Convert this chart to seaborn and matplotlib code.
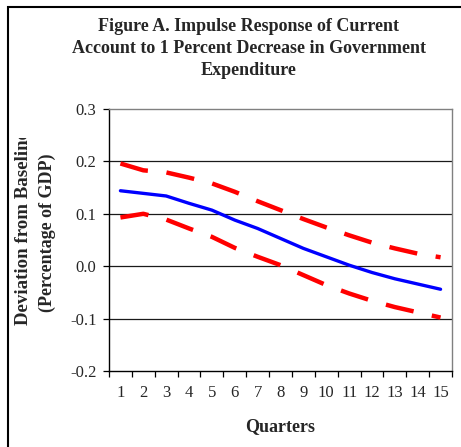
import matplotlib
matplotlib.use("Agg")
import matplotlib.pyplot as plt
from matplotlib.patches import Rectangle
from matplotlib.transforms import Bbox, TransformedBbox
import seaborn as sns
import pandas as pd

quarters = list(range(1, 16))
response = [0.144, 0.139, 0.134, 0.120, 0.107, 0.088, 0.072, 0.053, 0.034,
            0.018, 0.002, -0.012, -0.024, -0.034, -0.044]
upper_band = [0.196, 0.183, 0.179, 0.169, 0.158, 0.142, 0.124, 0.107, 0.090,
              0.074, 0.059, 0.045, 0.034, 0.024, 0.017]
lower_band = [0.093, 0.100, 0.089, 0.072, 0.056, 0.035, 0.018, 0.002, -0.017,
              -0.036, -0.052, -0.066, -0.078, -0.088, -0.098]
y_ticks = [0.3, 0.2, 0.1, 0.0, -0.1, -0.2]

sns.set_theme(style="white")
plt.rcParams["font.family"] = ["Liberation Serif", "DejaVu Serif"]

df = pd.DataFrame({"quarter": quarters, "response": response,
                   "upper": upper_band, "lower": lower_band})

fig = plt.figure(figsize=(4.61, 4.47), dpi=100)
fig.patch.set_facecolor("white")
ax = fig.add_axes([109 / 461, 1 - 371 / 447, 343 / 461, 262 / 447])

# confidence bands (dashed red) and point estimate (solid blue)
for col in ["upper", "lower"]:
    sns.lineplot(data=df, x="quarter", y=col, ax=ax, color="#ff0000",
                 linewidth=3.2, dashes=False, solid_capstyle="butt")
for line in ax.lines:
    line.set_linestyle((0, (6.4, 4.2)))
    line.set_dash_capstyle("butt")
sns.lineplot(data=df, x="quarter", y="response", ax=ax, color="#0000ff",
             linewidth=2.4)

ax.set_xlim(0.5, 15.5)
ax.set_ylim(-0.2, 0.3)
ax.set_yticks(y_ticks)
ax.set_yticklabels([f"{v:.1f}" for v in y_ticks], fontsize=12)
ax.set_xticks([q + 0.5 for q in [0] + quarters])
ax.set_xticklabels([])
ax.set_xticks(quarters, minor=True)
ax.set_xticklabels([str(q) for q in quarters], minor=True, fontsize=12)
ax.tick_params(axis="x", which="major", direction="out", length=4,
               width=0.9, color="black", bottom=True)
ax.tick_params(axis="x", which="minor", length=0, pad=10)
ax.tick_params(axis="y", direction="out", length=4, width=0.9,
               color="black", left=True, pad=5)

for v in y_ticks[1:-1]:
    ax.axhline(v, color="#1a1a1a", linewidth=0.9, zorder=0)

for side in ["left", "bottom"]:
    ax.spines[side].set_color("black")
    ax.spines[side].set_linewidth(1.0)
for side in ["top", "right"]:
    ax.spines[side].set_visible(True)
    ax.spines[side].set_color("#808080")
    ax.spines[side].set_linewidth(1.0)

ax.set_xlabel("Quarters", fontsize=13, fontweight="bold", labelpad=12)
ax.set_ylabel("")

# chart title
fig.text(249 / 461, 1 - 18 / 447,
         "Figure A. Impulse Response of Current\n"
         "Account to 1 Percent Decrease in Government\nExpenditure",
         ha="center", va="top", fontsize=13, fontweight="bold",
         linespacing=1.37)

# two-line axis title, clipped at the top of its box
clip = TransformedBbox(Bbox([[0, 0], [1, 1 - 138 / 447]]), fig.transFigure)
t1 = fig.text(23 / 461, 1 - 325 / 447, "Deviation from Baseline",
              rotation=90, ha="center", va="bottom", fontsize=13.6,
              fontweight="bold")
t1.set_clip_box(clip)
t1.set_clip_on(True)
fig.text(47 / 461, 1 - 312 / 447, "(Percentage of GDP)",
         rotation=90, ha="center", va="bottom", fontsize=13,
         fontweight="bold")

# outer chart frame
fig.patches.append(Rectangle((7.5 / 461, -0.1), 1.2, 1.1 - 7.5 / 447,
                             transform=fig.transFigure, fill=False,
                             edgecolor="black", linewidth=1.5,
                             clip_on=False))

ax.set_facecolor("white")
fig.savefig("out.png", dpi=100)
